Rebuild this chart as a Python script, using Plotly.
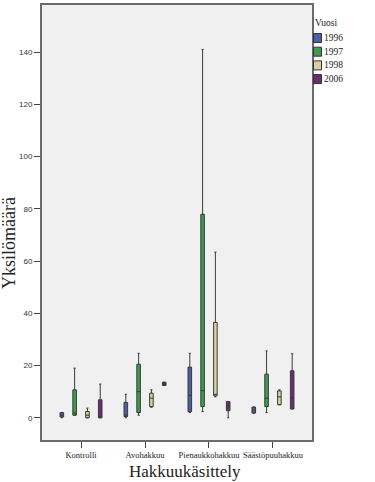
import plotly.graph_objects as go

categories = ["Kontrolli", "Avohakkuu", "Pienaukkohakkuu", "Säästöpuuhakkuu"]
years = ["1996", "1997", "1998", "2006"]
colors = ["#4a5fa6", "#3d9c50", "#d6d1a4", "#6e2b74"]

# per year: values for each category (min, q1, median, q3, max)
mins = {
    "1996": [0, 0, 2, 2],
    "1997": [1, 1, 2.4, 2],
    "1998": [0, 4, 8, 5],
    "2006": [0, 13, 0, 3.4],
}
q1s = {
    "1996": [0.3, 0.5, 2.4, 1.8],
    "1997": [1, 2, 4.3, 4.3],
    "1998": [0, 4.3, 8.4, 5],
    "2006": [0, 12.4, 2.7, 3.4],
}
medians = {
    "1996": [1, 1.1, 8.5, 3],
    "1997": [1.8, 10, 10.4, 7.5],
    "1998": [1, 7.5, 9, 8],
    "2006": [0.4, 13, 4.5, 7.6],
}
q3s = {
    "1996": [2, 5.9, 19.4, 4.1],
    "1997": [10.7, 20.5, 77.9, 16.7],
    "1998": [2.4, 9.4, 36.5, 10.3],
    "2006": [6.9, 13.6, 6.2, 18],
}
maxs = {
    "1996": [2, 9, 24.7, 4.1],
    "1997": [19, 24.7, 141, 25.6],
    "1998": [3.7, 10.7, 63.4, 10.7],
    "2006": [12.9, 13.6, 6.2, 24.5],
}
y_ticks = [0, 20, 40, 60, 80, 100, 120, 140]

W, H = 375, 482
ML, MR, MT, MB = 42, 63, 5, 42
pw = W - ML - MR
ph = H - MT - MB


def px_x(x):
    return (x - ML) / pw


def px_y(y):
    return (H - MB - y) / ph


fig = go.Figure()
for yr, col in zip(years, colors):
    fig.add_trace(go.Box(
        name=yr,
        x=categories,
        q1=q1s[yr], median=medians[yr], q3=q3s[yr],
        lowerfence=mins[yr], upperfence=maxs[yr],
        fillcolor=col,
        line=dict(color="#3a3a3a", width=1),
        whiskerwidth=0.6,
        boxpoints=False,
        showlegend=False,
        hoverinfo="skip",
    ))

shapes = []
annotations = [
    dict(text="Yksilömäärä", textangle=-90, x=px_x(9), y=px_y(243),
         xref="paper", yref="paper", xanchor="center", yanchor="middle",
         showarrow=False,
         font=dict(size=18, family="Liberation Serif", color="#222")),
    dict(text="Hakkuukäsittely", x=px_x(185), y=px_y(471),
         xref="paper", yref="paper", xanchor="center", yanchor="middle",
         showarrow=False,
         font=dict(size=17, family="Liberation Serif", color="#222")),
    dict(text="Vuosi", x=px_x(326), y=px_y(23),
         xref="paper", yref="paper", xanchor="center", yanchor="middle",
         showarrow=False,
         font=dict(size=9.5, family="Liberation Serif", color="#222")),
]
for i, (yr, col) in enumerate(zip(years, colors)):
    yc = 38 + i * 13.7
    shapes.append(dict(type="rect", xref="paper", yref="paper",
                       x0=px_x(313.5), x1=px_x(321.5),
                       y0=px_y(yc - 4.5), y1=px_y(yc + 4.5),
                       fillcolor=col, line=dict(color="#333", width=1)))
    annotations.append(dict(text=yr, x=px_x(322), y=px_y(yc),
                            xref="paper", yref="paper",
                            xanchor="left", yanchor="middle", showarrow=False,
                            font=dict(size=9.5, family="Liberation Serif",
                                      color="#222")))

fig.update_layout(
    width=W, height=H,
    margin=dict(l=ML, r=MR, t=MT, b=MB, autoexpand=False),
    paper_bgcolor="white",
    plot_bgcolor="#f0f0f0",
    boxmode="group",
    boxgap=0.2,
    boxgroupgap=0.72,
    font=dict(family="Liberation Serif", color="#222"),
    showlegend=False,
    hovermode=False,
    xaxis=dict(
        type="category",
        categoryorder="array", categoryarray=categories,
        range=[-0.61, 3.61],
        showline=True, linecolor="#6a6a6a", linewidth=2, mirror=True,
        ticks="outside", ticklen=6, tickcolor="#444",
        tickangle=0,
        tickfont=dict(size=8.5, family="Liberation Serif", color="#222"),
        showgrid=False, automargin=False,
    ),
    yaxis=dict(
        range=[-8.5, 158],
        tickvals=y_ticks,
        showline=True, linecolor="#6a6a6a", linewidth=2, mirror=True,
        ticks="outside", ticklen=6, tickcolor="#444",
        tickfont=dict(size=8, family="Liberation Sans", color="#333"),
        showgrid=False, zeroline=False, automargin=False,
    ),
    shapes=shapes,
    annotations=annotations,
)

fig.write_html(
    "out.html",
    config={"displayModeBar": False, "staticPlot": True},
    post_script="document.body.style.margin='0px';document.body.style.padding='0px';",
)
